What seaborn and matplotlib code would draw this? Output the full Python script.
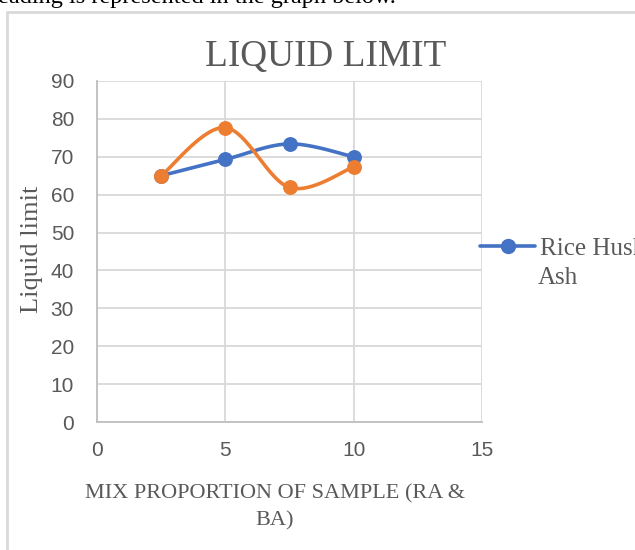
import numpy as np
import pandas as pd
import matplotlib
matplotlib.use("Agg")
import matplotlib.pyplot as plt
import seaborn as sns
from matplotlib.lines import Line2D

mix = [2.5, 5, 7.5, 10]
rice_husk_ash = [65.0, 69.3, 73.4, 70.0]
second_series = [65.0, 77.7, 61.9, 67.3]
series_names = ["Rice Husk Ash", "Series 2"]
x_ticks = [0, 5, 10, 15]
y_ticks = [0, 10, 20, 30, 40, 50, 60, 70, 80, 90]

BLUE = "#4472C4"
ORANGE = "#ED7D31"
GREY = "#595959"
GRID = "#d9d9d9"

sns.set_theme(style="white")
tick_font = ["Liberation Sans", "DejaVu Sans"]
serif = ["Liberation Serif", "DejaVu Serif"]
plt.rcParams["font.family"] = serif


def smooth(xs, ys, n=40):
    xs = np.asarray(xs, float); ys = np.asarray(ys, float)
    px = np.concatenate([[xs[0]], xs, [xs[-1]]])
    py = np.concatenate([[ys[0]], ys, [ys[-1]]])
    ox, oy = [], []
    for i in range(1, len(px) - 2):
        t = np.linspace(0, 1, n)
        p0, p1, p2, p3 = [np.array([px[j], py[j]]) for j in (i - 1, i, i + 1, i + 2)]
        c1 = p1 + (p2 - p0) / 6
        c2 = p2 - (p3 - p1) / 6
        b = ((1 - t) ** 3)[:, None] * p1 + (3 * (1 - t) ** 2 * t)[:, None] * c1 + \
            (3 * (1 - t) * t ** 2)[:, None] * c2 + (t ** 3)[:, None] * p2
        ox.extend(b[:, 0]); oy.extend(b[:, 1])
    return np.array(ox), np.array(oy)


fig = plt.figure(figsize=(6.35, 5.5), dpi=100)
ax = fig.add_axes([97 / 635, 1 - 422 / 550, (482 - 97) / 635, (422 - 81) / 550])

for ys, col, name in [(rice_husk_ash, BLUE, series_names[0]), (second_series, ORANGE, series_names[1])]:
    sx, sy = smooth(mix, ys)
    df = pd.DataFrame({"x": sx, "y": sy})
    sns.lineplot(data=df, x="x", y="y", ax=ax, color=col, lw=2.6, sort=False,
                 estimator=None, zorder=3)
    pts = pd.DataFrame({"x": mix, "y": ys})
    sns.scatterplot(data=pts, x="x", y="y", ax=ax, color=col, s=115,
                    edgecolor=col, linewidth=0, zorder=4)

ax.set_xlim(0, 15)
ax.set_ylim(0, 90)
ax.set_xticks(x_ticks)
ax.set_yticks(y_ticks)
ax.grid(True, color=GRID, lw=1.3)
ax.set_axisbelow(True)
for s in ["top", "right"]:
    ax.spines[s].set_visible(False)
for s in ["left", "bottom"]:
    ax.spines[s].set_color("#bfbfbf")
    ax.spines[s].set_linewidth(1.3)
ax.tick_params(axis="y", length=0, pad=16.5, labelcolor=GREY)
ax.tick_params(axis="x", length=0, pad=14, labelcolor=GREY)
for lab in ax.get_xticklabels() + ax.get_yticklabels():
    lab.set_fontfamily(tick_font)
    lab.set_fontsize(15)
ax.set_xlabel("MIX PROPORTION OF SAMPLE (RA &\nBA)", fontsize=16, color=GREY,
              linespacing=1.5)
ax.xaxis.set_label_coords((275 - 97) / (482 - 97), -0.183)
ax.xaxis.label.set_va("top")
ax.set_ylabel("Liquid limit", fontsize=19, color=GREY)
ax.yaxis.set_label_coords(-0.175 + 13 / 385, 0.505)
ax.set_title("LIQUID LIMIT", fontsize=26.8, color=GREY, pad=11)
ax.title.set_position((0.595, 1))

h = Line2D([], [], color=BLUE, lw=2.6, marker="o", markersize=10)
leg = fig.legend([h], ["Rice Husk"], loc="center left",
                 bbox_to_anchor=(480 / 635, 1 - 249 / 550), frameon=False,
                 fontsize=18, handlelength=2.2, handletextpad=0.18,
                 borderpad=0, borderaxespad=0, labelcolor=GREY)
fig.text(538 / 635, 1 - 284 / 550, "Ash", fontsize=18, color=GREY,
         va="baseline", ha="left")

fig.add_artist(Line2D([7 / 635, 7 / 635], [0, 1 - 12 / 550], color=GRID, lw=2))
fig.add_artist(Line2D([7 / 635, 1], [1 - 12 / 550, 1 - 12 / 550], color=GRID, lw=2))
fig.text(-10 / 635, 1 - 3 / 550, "reading is represented in the graph below.",
         fontsize=17.5, color="black", va="baseline", ha="left")

fig.savefig("out.png", dpi=100)
